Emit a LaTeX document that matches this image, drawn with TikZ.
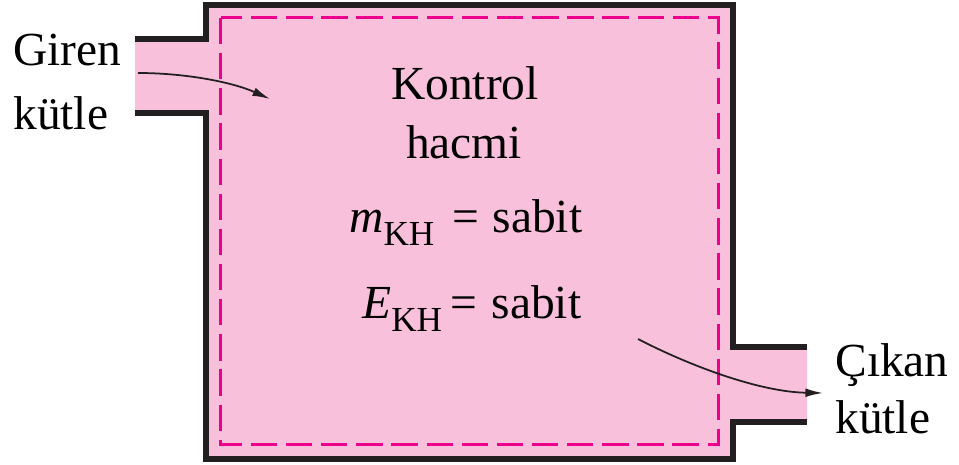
\documentclass[tikz,border=0pt]{standalone}
\usepackage{fontspec}
\setmainfont{Liberation Serif}
\newfontfamily\cvserif{Liberation Serif}
\usepackage{xcolor}
\usepackage{tikz}
\usetikzlibrary{arrows.meta}
\definecolor{cvpink}{RGB}{248,192,218}
\definecolor{cvmagenta}{RGB}{236,0,140}
\definecolor{cvwall}{RGB}{35,31,32}
\newcommand{\khsub}{\raisebox{-0.26em}{\fontsize{20}{20}\selectfont KH}}

\begin{document}
\begin{tikzpicture}[x=0.02cm, y=-0.02cm, font=\cvserif\fontsize{27}{33}\selectfont,
  wall/.style={draw=cvwall, line width=3.4pt, line join=miter, line cap=butt},
  cvline/.style={draw=cvmagenta, line width=1.7pt, dash pattern=on 15pt off 5pt},
  flow/.style={draw=cvwall, line width=1pt, -{Latex[length=10pt,width=5pt]}},
  lab/.style={inner sep=0pt, anchor=base},
  side/.style={inner sep=0pt, anchor=base west}]
\useasboundingbox (0,0) rectangle (959,465);
\begin{scope}
  \fill[cvpink] (135,39) -- (206,39) -- (206,5) -- (733,5) -- (733,347) -- (807,347)
    -- (807,422) -- (733,422) -- (733,459) -- (206,459) -- (206,113) -- (135,113) -- cycle;
  \draw[wall] (135,39) -- (206,39) -- (206,5) -- (733,5) -- (733,347) -- (807,347);
  \draw[wall] (807,422) -- (733,422) -- (733,459) -- (206,459) -- (206,113) -- (135,113);
  \draw[cvline] (220.5,18) rectangle (718.5,444.5);
\end{scope}
\node[lab] (kontrol) at (465,100) {Kontrol};
\node[lab] (hacmi) at (464,159) {hacmi};
\node[side] (mkh) at (349,233) {\textit{m}\khsub\hspace{10.5pt}=\hspace{7.5pt}sabit};
\node[side] (ekh) at (362,319) {\textit{E}\khsub\hspace{5pt}=\hspace{8pt}sabit};
\node[side] (giren) at (13,66) {Giren};
\node[side] (kutlein) at (13,130) {kütle};
\node[side] (cikan) at (835,377) {Çıkan};
\node[side] (kutleout) at (835,433) {kütle};
\coordinate (inS) at (138,73);
\coordinate (inE) at (270,99);
\coordinate (outS) at (638,339);
\coordinate (outE) at (823,393);
\draw[flow] (inS) .. controls (185,73) and (232,82) .. (inE);
\draw[flow] (outS) .. controls (690,366) and (760,392) .. (outE);
\end{tikzpicture}
\end{document}
